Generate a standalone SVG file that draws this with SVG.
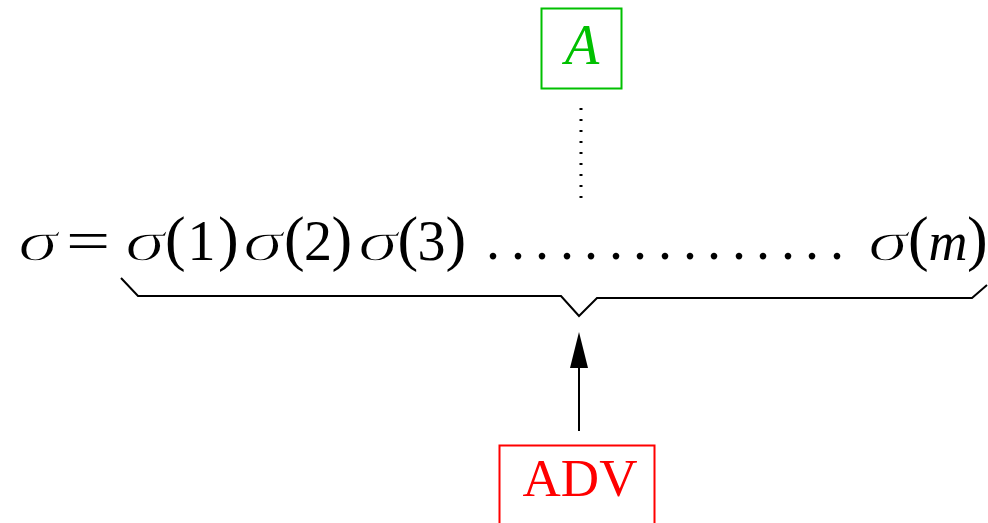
<svg xmlns="http://www.w3.org/2000/svg" width="988" height="523" viewBox="0 0 988 523">
<style>
.m{font-family:"Liberation Serif",serif;font-size:56px;fill:#000}
.s{font-style:italic}
.g{stroke:#fff;stroke-width:1.4}
.p{font-size:62px}
.ln{fill:none;stroke:#000;stroke-width:2}
</style>
<defs>
<marker id="ah" markerWidth="36" markerHeight="18" refX="28" refY="9" orient="auto" markerUnits="userSpaceOnUse">
<path d="M0,0 L36,9 L0,18 Z" fill="#000"/>
</marker>
</defs>
<rect width="988" height="523" fill="#fff"/>
<g id="sequence">
<text class="m s g" x="18" y="260" textLength="40" lengthAdjust="spacingAndGlyphs">σ</text>
<text class="m" text-anchor="middle" transform="translate(88,260) scale(1.4,1)" font-size="58">=</text>
<text class="m" y="260"><tspan class="s g" x="125" textLength="40" lengthAdjust="spacingAndGlyphs">σ</tspan><tspan class="p" x="165" y="259">(</tspan><tspan x="187.5" y="260">1</tspan><tspan class="p" x="218" y="259">)</tspan></text>
<text class="m" y="260"><tspan class="s g" x="243" textLength="40" lengthAdjust="spacingAndGlyphs">σ</tspan><tspan class="p" x="284" y="259">(</tspan><tspan x="304" y="260">2</tspan><tspan class="p" x="331.5" y="259">)</tspan></text>
<text class="m" y="260"><tspan class="s g" x="358" textLength="40" lengthAdjust="spacingAndGlyphs">σ</tspan><tspan class="p" x="397.5" y="259">(</tspan><tspan x="417.5" y="260">3</tspan><tspan class="p" x="445.5" y="259">)</tspan></text>
<text class="m" y="259" text-anchor="middle"><tspan x="493">.</tspan><tspan x="518">.</tspan><tspan x="542">.</tspan><tspan x="567">.</tspan><tspan x="591">.</tspan><tspan x="616">.</tspan><tspan x="640">.</tspan><tspan x="665">.</tspan><tspan x="690">.</tspan><tspan x="714">.</tspan><tspan x="739">.</tspan><tspan x="763">.</tspan><tspan x="788">.</tspan><tspan x="812">.</tspan><tspan x="837">.</tspan></text>
<text class="m" y="260"><tspan class="s g" x="868" textLength="40" lengthAdjust="spacingAndGlyphs">σ</tspan><tspan class="p" x="908" y="259">(</tspan><tspan class="s" x="928.5" y="260" font-size="54">m</tspan><tspan class="p" x="967" y="259">)</tspan></text>
</g>
<g id="A">
<rect x="541.5" y="8.5" width="80" height="80" fill="none" stroke="#00c000" stroke-width="2"/>
<text x="582" y="64" text-anchor="middle" font-family="Liberation Serif, serif" font-style="italic" font-size="56" fill="#00c000">A</text>
</g>
<g id="ADV">
<rect x="499.5" y="445.5" width="155" height="90" fill="none" stroke="#ff0000" stroke-width="2"/>
<text x="580" y="496" text-anchor="middle" font-family="Liberation Serif, serif" font-size="53" fill="#ff0000">ADV</text>
</g>
<g id="connectors">
<path class="ln" d="M121,278 L138,296 L561,296 L579,316 L597,298 L972,298 L987,285"/>
<line x1="581" y1="108" x2="581" y2="200" stroke="#000" stroke-width="3" stroke-dasharray="2,9"/>
<line x1="579" y1="431" x2="579" y2="340" stroke="#000" stroke-width="2" marker-end="url(#ah)"/>
</g>
</svg>
